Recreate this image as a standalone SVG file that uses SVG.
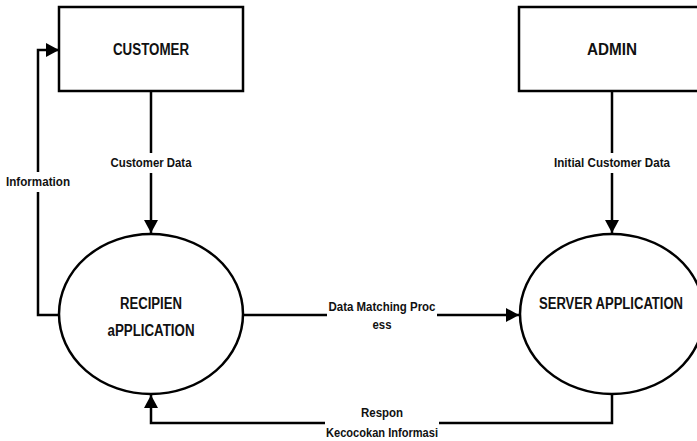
<svg xmlns="http://www.w3.org/2000/svg" width="697" height="441" viewBox="0 0 697 441">
<style>
.box{fill:#fff;stroke:#000;stroke-width:2.5}
.conn{fill:none;stroke:#000;stroke-width:2.5}
.node{font-family:"Liberation Sans",Arial,sans-serif;font-weight:bold;font-size:16px;fill:#111;text-anchor:middle}
.lbl{font-family:"Liberation Sans",Arial,sans-serif;font-weight:bold;font-size:12px;fill:#111;text-anchor:middle}
.bg{fill:#fff}
</style>
<defs>
<marker id="arr" markerUnits="userSpaceOnUse" markerWidth="14" markerHeight="14" refX="13" refY="7" orient="auto">
<path d="M0,0 L13,7 L0,14 Z" fill="#000"/>
</marker>
</defs>
<g id="connectors">
<path class="conn" d="M151,91 V233" marker-end="url(#arr)"/>
<path class="conn" d="M59,315 H38 V50 H59" marker-end="url(#arr)"/>
<path class="conn" d="M612,91 V233" marker-end="url(#arr)"/>
<path class="conn" d="M243,315 H519" marker-end="url(#arr)"/>
<path class="conn" d="M612,394 V423 H151 V395" marker-end="url(#arr)"/>
<rect class="bg" x="105" y="153" width="92" height="20"/>
<text class="lbl" x="151" y="167" textLength="81" lengthAdjust="spacingAndGlyphs">Customer Data</text>
<rect class="bg" x="4" y="172" width="68" height="20"/>
<text class="lbl" x="38" y="186" textLength="64" lengthAdjust="spacingAndGlyphs">Information</text>
<rect class="bg" x="550" y="153" width="124" height="20"/>
<text class="lbl" x="612" y="167" textLength="116" lengthAdjust="spacingAndGlyphs">Initial Customer Data</text>
<rect class="bg" x="327" y="298" width="110" height="36"/>
<text class="lbl" x="382" y="311" textLength="107" lengthAdjust="spacingAndGlyphs">Data Matching Proc</text>
<text class="lbl" x="382" y="329" textLength="19" lengthAdjust="spacingAndGlyphs">ess</text>
<rect class="bg" x="325" y="404" width="114" height="37"/>
<text class="lbl" x="382" y="417" textLength="42" lengthAdjust="spacingAndGlyphs">Respon</text>
<text class="lbl" x="382" y="437" textLength="112" lengthAdjust="spacingAndGlyphs">Kecocokan Informasi</text>
</g>
<g id="customer">
<rect class="box" x="59" y="7" width="184" height="84"/>
<text class="node" x="151" y="55" textLength="76" lengthAdjust="spacingAndGlyphs">CUSTOMER</text>
</g>
<g id="admin">
<rect class="box" x="519" y="7" width="186" height="84"/>
<text class="node" x="612" y="55" textLength="50" lengthAdjust="spacingAndGlyphs">ADMIN</text>
</g>
<g id="recipien">
<ellipse class="box" cx="151" cy="314" rx="92" ry="80"/>
<text class="node" x="151" y="309" textLength="62" lengthAdjust="spacingAndGlyphs">RECIPIEN</text>
<text class="node" x="151" y="336" textLength="87" lengthAdjust="spacingAndGlyphs">aPPLICATION</text>
</g>
<g id="server">
<ellipse class="box" cx="612" cy="314" rx="92" ry="80"/>
<text class="node" x="611" y="309" textLength="144" lengthAdjust="spacingAndGlyphs">SERVER APPLICATION</text>
</g>
</svg>
